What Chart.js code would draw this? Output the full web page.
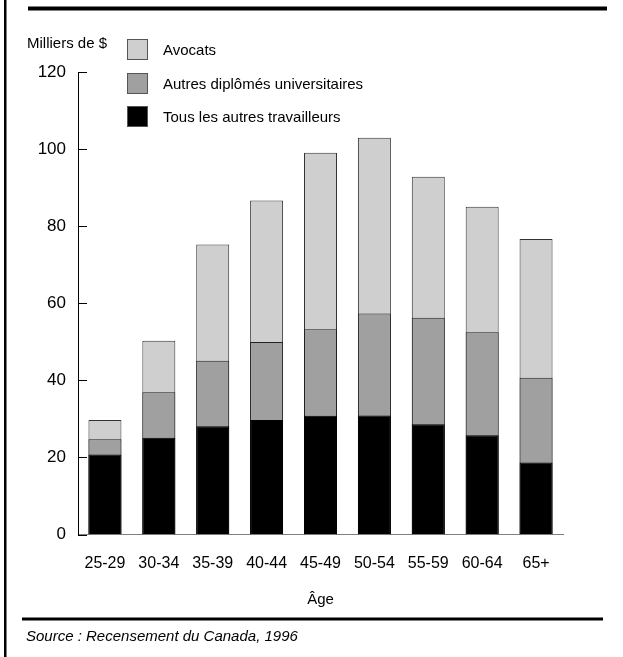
<!DOCTYPE html>
<html>
<head>
<meta charset="utf-8">
<script src="https://cdn.jsdelivr.net/npm/chart.js@4"></script>
<style>
  html, body { margin: 0; padding: 0; background: #fff; }
  canvas { display: block; }
</style>
</head>
<body>
<canvas id="c" width="623" height="657"></canvas>
<script>
const categories = ["25-29","30-34","35-39","40-44","45-49","50-54","55-59","60-64","65+"];
const avocats = [29.7, 50.3, 75.3, 86.7, 99.1, 103.0, 92.9, 85.1, 76.7];
const autresDiplomes = [24.7, 36.9, 45.1, 50.0, 53.3, 57.4, 56.3, 52.5, 40.7];
const tousAutres = [20.8, 25.1, 28.1, 29.7, 30.8, 30.9, 28.6, 25.8, 18.7];
const yTicks = [0, 20, 40, 60, 80, 100, 120];
const seriesLabels = ["Avocats", "Autres diplômés universitaires", "Tous les autres travailleurs"];
const seriesColors = ["#cfcfcf", "#a0a0a0", "#000000"];
const yUnit = "Milliers de $";
const xTitle = "Âge";
const sourceText = "Source : Recensement du Canada, 1996";

const FONT = '"Liberation Sans", Arial, sans-serif';

const decorPlugin = {
  id: 'decor',
  afterDraw(chart) {
    const ctx = chart.ctx;
    const y = chart.scales.y;
    const area = chart.chartArea;
    ctx.save();
    // inward ticks on y axis
    ctx.strokeStyle = '#000';
    ctx.lineWidth = 1;
    y.ticks.forEach(t => {
      const py = Math.round(y.getPixelForValue(t.value)) + 0.5;
      ctx.beginPath();
      ctx.moveTo(area.left, py);
      ctx.lineTo(area.left + 9, py);
      ctx.stroke();
    });
    // frame lines
    ctx.fillStyle = '#000';
    ctx.fillRect(4, 0, 2.5, 657);
    ctx.fillRect(28, 6.5, 579, 4);
    ctx.fillRect(22, 617.5, 581, 3);
    // y unit
    ctx.font = '15px ' + FONT;
    ctx.textBaseline = 'middle';
    ctx.textAlign = 'left';
    ctx.fillText(yUnit, 27, 44);
    // legend
    const boxTops = [39, 73, 106];
    seriesLabels.forEach((lab, i) => {
      ctx.fillStyle = seriesColors[i];
      ctx.fillRect(127, boxTops[i], 20, 20);
      ctx.strokeStyle = '#555';
      ctx.lineWidth = 1;
      ctx.strokeRect(127.5, boxTops[i] + 0.5, 20, 20);
      ctx.fillStyle = '#000';
      ctx.fillText(lab, 163, boxTops[i] + 12);
    });
    // source
    ctx.font = 'italic 15px ' + FONT;
    ctx.fillText(sourceText, 26, 637);
    ctx.restore();
  }
};

new Chart(document.getElementById('c'), {
  type: 'bar',
  data: {
    labels: categories,
    datasets: [
      { label: seriesLabels[0], data: avocats, backgroundColor: seriesColors[0], borderColor: '#333', borderWidth: 1, order: 3, grouped: false, borderSkipped: 'bottom' },
      { label: seriesLabels[1], data: autresDiplomes, backgroundColor: seriesColors[1], borderColor: '#222', borderWidth: 1, order: 2, grouped: false, borderSkipped: 'bottom' },
      { label: seriesLabels[2], data: tousAutres, backgroundColor: seriesColors[2], borderColor: '#000', borderWidth: 1, order: 1, grouped: false, borderSkipped: 'bottom' }
    ]
  },
  options: {
    responsive: false,
    animation: false,
    devicePixelRatio: 1,
    layout: { padding: { left: 0, right: 60, top: 72.3, bottom: 0 } },
    plugins: { legend: { display: false }, tooltip: { enabled: false } },
    datasets: { bar: { categoryPercentage: 1, barPercentage: 0.612 } },
    scales: {
      x: {
        grid: { display: false, drawTicks: false },
        border: { display: true, color: '#808080', width: 1 },
        ticks: { color: '#000', font: { family: FONT, size: 16 }, padding: 19, maxRotation: 0 },
        title: { display: true, text: xTitle, color: '#000', font: { family: FONT, size: 15 }, padding: { top: 0, bottom: 48 } },
        afterFit: s => { s.height = 122.5; }
      },
      y: {
        min: 0, max: 120,
        afterBuildTicks: s => { s.ticks = yTicks.map(v => ({ value: v })); },
        grid: { display: false, drawTicks: false },
        border: { display: true, color: '#000', width: 1 },
        ticks: { color: '#000', font: { family: FONT, size: 17 }, padding: 12 },
        afterFit: s => { s.width = 78; }
      }
    }
  },
  plugins: [decorPlugin]
});
</script>
</body>
</html>
